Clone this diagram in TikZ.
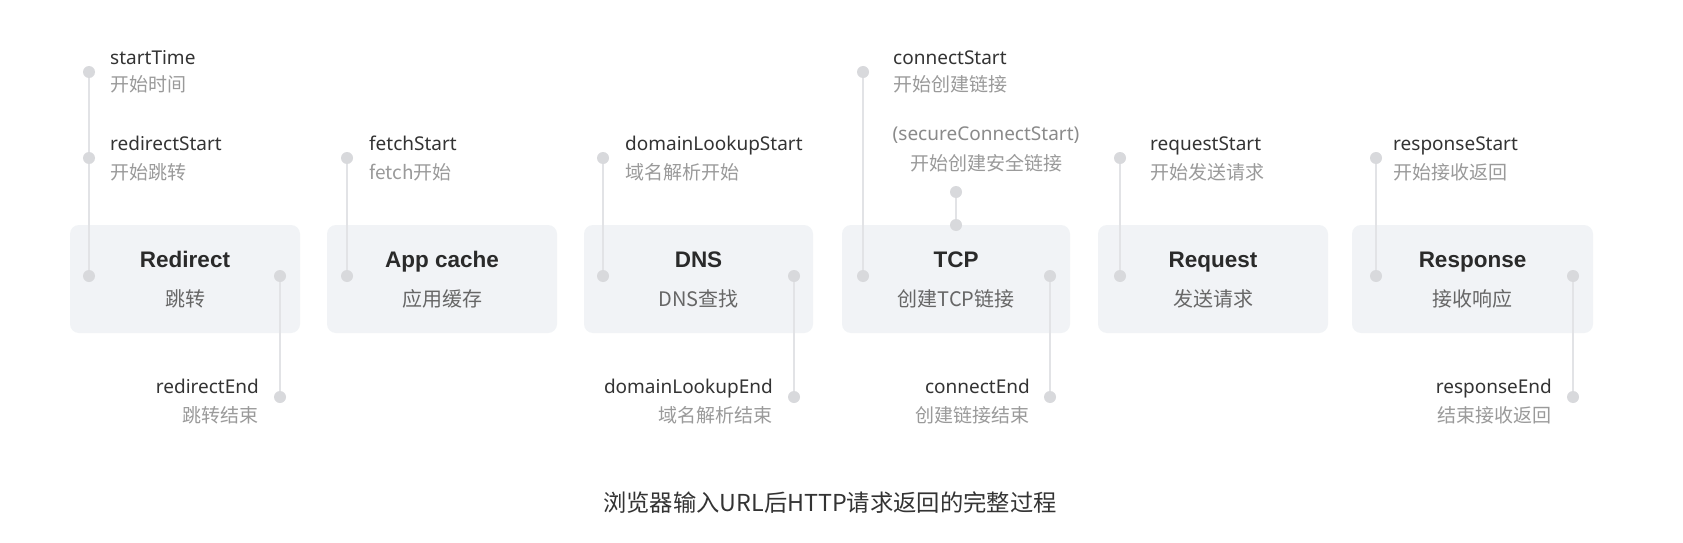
\documentclass[tikz,border=0pt]{standalone}
\usepackage{fontspec}
\setmainfont{Noto Sans}
\newfontfamily\cjk{Noto Sans CJK SC}
\newfontfamily\ttlfont{Liberation Sans}
\definecolor{boxfill}{HTML}{F1F3F6}
\definecolor{dotc}{HTML}{D8D9DC}
\definecolor{linec}{HTML}{E2E3E6}
\definecolor{ttlc}{HTML}{2A2A2A}
\definecolor{subc}{HTML}{666666}
\definecolor{nmc}{HTML}{333333}
\definecolor{cnc}{HTML}{9A9A9A}
\definecolor{secc}{HTML}{8A8A8A}
\definecolor{capc}{HTML}{333333}
\tikzset{
  boxstyle/.style={fill=boxfill, rounded corners=9pt, minimum height=108pt, inner sep=0pt},
  dotstyle/.style={circle, fill=dotc, minimum size=12pt, inner sep=0pt},
  connstyle/.style={draw=linec, line width=2pt},
  ttlstyle/.style={anchor=base, inner sep=0pt, font=\ttlfont\bfseries\fontsize{22.5}{26}\selectfont, text=ttlc},
  substyle/.style={anchor=base, inner sep=0pt, font=\cjk\fontsize{20}{24}\selectfont, text=subc},
  namestyle/.style={inner sep=0pt, font=\fontsize{19}{23}\selectfont, text=nmc},
  cnstyle/.style={inner sep=0pt, font=\cjk\fontsize{19}{23}\selectfont, text=cnc},
  nameL/.style={namestyle, anchor=base west},
  cnL/.style={cnstyle, anchor=base west},
  nameR/.style={namestyle, anchor=base east},
  cnR/.style={cnstyle, anchor=base east},
}
\begin{document}
\begin{tikzpicture}[x=1pt, y=-1pt]
\useasboundingbox (0,0) rectangle (1683,543);
\fill[white] (0,0) rectangle (1683,543);

% boxes
\node[boxstyle, minimum width=230pt] (b1) at (185,279) {};
\node[boxstyle, minimum width=230pt] (b2) at (442,279) {};
\node[boxstyle, minimum width=229pt] (b3) at (698.5,279) {};
\node[boxstyle, minimum width=228pt] (b4) at (956,279) {};
\node[boxstyle, minimum width=230pt] (b5) at (1213,279) {};
\node[boxstyle, minimum width=241pt] (b6) at (1472.5,279) {};

% titles
\node[ttlstyle] (t1) at (185,267) {Redirect};
\node[ttlstyle] (t2) at (442,267) {App cache};
\node[ttlstyle] (t3) at (698.5,267) {DNS};
\node[ttlstyle] (t4) at (956,267) {TCP};
\node[ttlstyle] (t5) at (1213,267) {Request};
\node[ttlstyle] (t6) at (1472.5,267) {Response};

\node[substyle] (s1) at (185,306) {跳转};
\node[substyle] (s2) at (442,306) {应用缓存};
\node[substyle] (s3) at (698.5,306) {DNS查找};
\node[substyle] (s4) at (956,306) {创建TCP链接};
\node[substyle] (s5) at (1213,306) {发送请求};
\node[substyle] (s6) at (1472.5,306) {接收响应};

% dots
\node[dotstyle] (r1) at (89,72) {};
\node[dotstyle] (r2) at (89,158) {};
\node[dotstyle] (r3) at (89,276) {};
\node[dotstyle] (r4) at (280,276) {};
\node[dotstyle] (r5) at (280,397) {};

\node[dotstyle] (a1) at (347,158) {};
\node[dotstyle] (a2) at (347,276) {};

\node[dotstyle] (n1) at (603,158) {};
\node[dotstyle] (n2) at (603,276) {};
\node[dotstyle] (n3) at (794,276) {};
\node[dotstyle] (n4) at (794,397) {};

\node[dotstyle] (c1) at (863,72) {};
\node[dotstyle] (c2) at (863,276) {};
\node[dotstyle] (c3) at (956,192) {};
\node[dotstyle] (c4) at (956,225) {};
\node[dotstyle] (c5) at (1050,276) {};
\node[dotstyle] (c6) at (1050,397) {};

\node[dotstyle] (q1) at (1120,158) {};
\node[dotstyle] (q2) at (1120,276) {};

\node[dotstyle] (p1) at (1376,158) {};
\node[dotstyle] (p2) at (1376,276) {};
\node[dotstyle] (p3) at (1573,276) {};
\node[dotstyle] (p4) at (1573,397) {};

% connectors
\draw[connstyle] (r1) -- (r2) -- (r3);
\draw[connstyle] (r4) -- (r5);
\draw[connstyle] (a1) -- (a2);
\draw[connstyle] (n1) -- (n2);
\draw[connstyle] (n3) -- (n4);
\draw[connstyle] (c1) -- (c2);
\draw[connstyle] (c3) -- (c4);
\draw[connstyle] (c5) -- (c6);
\draw[connstyle] (q1) -- (q2);
\draw[connstyle] (p1) -- (p2);
\draw[connstyle] (p3) -- (p4);

% top labels
\node[nameL] (l1) at (110,64) {startTime};
\node[cnL] (l1c) at (110,92) {开始时间};
\node[nameL] (l2) at (110,150) {redirectStart};
\node[cnL] (l2c) at (110,179) {开始跳转};
\node[nameL] (l3) at (369,150) {fetchStart};
\node[cnL] (l3c) at (369,179) {fetch开始};
\node[nameL] (l4) at (625,150) {domainLookupStart};
\node[cnL] (l4c) at (625,179) {域名解析开始};
\node[nameL] (l5) at (893,64) {connectStart};
\node[cnL] (l5c) at (893,92) {开始创建链接};
\node[namestyle, anchor=base, text=secc] (l6) at (986,140) {(secureConnectStart)};
\node[cnstyle, anchor=base] (l6c) at (986,170) {开始创建安全链接};
\node[nameL] (l7) at (1150,150) {requestStart};
\node[cnL] (l7c) at (1150,179) {开始发送请求};
\node[nameL] (l8) at (1393,150) {responseStart};
\node[cnL] (l8c) at (1393,179) {开始接收返回};

% bottom labels
\node[nameR] (e1) at (259,393) {redirectEnd};
\node[cnR] (e1c) at (259,422) {跳转结束};
\node[nameR] (e2) at (773,393) {domainLookupEnd};
\node[cnR] (e2c) at (773,422) {域名解析结束};
\node[nameR] (e3) at (1030,393) {connectEnd};
\node[cnR] (e3c) at (1030,422) {创建链接结束};
\node[nameR] (e4) at (1552,393) {responseEnd};
\node[cnR] (e4c) at (1552,422) {结束接收返回};

% caption
\node[anchor=base, inner sep=0pt, font=\cjk\fontsize{23.3}{28}\selectfont, text=capc] (cap) at (830,511) {浏览器输入URL后HTTP请求返回的完整过程};
\end{tikzpicture}
\end{document}
